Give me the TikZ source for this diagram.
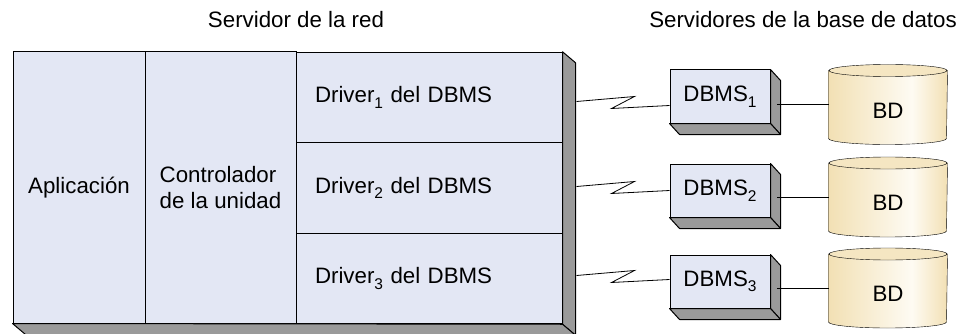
\documentclass[tikz,border=0pt]{standalone}
\usepackage{fontspec}
\setmainfont{Liberation Sans}
\usepackage{xcolor}
\usetikzlibrary{backgrounds}
\definecolor{panel}{HTML}{E3E7F4}
\definecolor{depth}{HTML}{9A9A9A}
\definecolor{cream}{HTML}{F2E0B4}
\definecolor{creamlight}{HTML}{FEFBF3}
\definecolor{capfill}{HTML}{F5E6C2}
\pgfdeclarehorizontalshading{cylfill}{100bp}{color(0bp)=(cream); color(25bp)=(cream); color(60bp)=(creamlight); color(75bp)=(cream); color(100bp)=(cream)}
\newcommand{\lowidx}[1]{\raisebox{-5.5pt}{\fontsize{15.5}{15.5}\selectfont #1}}

\begin{document}
\begin{tikzpicture}[x=1pt, y=-1pt, line width=1pt, every node/.style={font=\fontsize{22.3}{25.5}\selectfont}]
  \tikzstyle{cell}=[rectangle, draw, fill=panel, inner sep=0pt]
  \tikzstyle{side}=[draw, fill=depth, line join=round]
  \tikzstyle{wire}=[line width=0.8pt]
  \useasboundingbox (0,0) rectangle (968,334);
  \node (srvtitle) at (296,20) {Servidor de la red};
  \node (dbtitle) at (803,20) {Servidores de la base de datos};
  \node[cell, minimum width=132, minimum height=271] (app) at (79,187.5) {Aplicación};
  \node[cell, minimum width=151, minimum height=271, align=left] (ctl) at (220.5,187.5) {Controlador\\de la unidad};
  \foreach \i/\y in {1/97.5,2/188,3/278.5}{
    \node[cell, text width=228, inner xsep=19pt, minimum height=90.5, align=left] (drv\i) at (429,\y) {Driver\lowidx{\i} del DBMS};
  }
  \draw[side] (drv1.north east) -- ++(13,11) -- ([shift={(13,11)}]drv3.south east) -- (drv3.south east) -- cycle;
  \draw[side] (app.south west) -- ++(13,11) -- ([shift={(13,11)}]drv3.south east) -- (drv3.south east) -- cycle;
  \foreach \i/\y/\dy in {1/96.5/9,2/190.5/0,3/281.5/-2}{
    \node[cell, minimum width=100, minimum height=53] (dbms\i) at (720,\y) {DBMS\lowidx{\i}};
    \draw[side] (dbms\i.north east) -- ++(10,11) -- ([shift={(10,11)}]dbms\i.south east) -- (dbms\i.south east) -- cycle;
    \draw[side] (dbms\i.south west) -- ++(10,11) -- ([shift={(10,11)}]dbms\i.south east) -- (dbms\i.south east) -- cycle;
    \draw[wire] ([yshift=-\dy pt]dbms\i.west) -- ++(-58,3) -- ++(23,-12) -- ++(-58,5);
  }
  \foreach \i/\y in {1/110.5,2/203,3/294}{
    \node[minimum width=118, minimum height=67, inner sep=0pt] (bd\i) at (888,\y) {BD};
    \draw[wire] ([yshift=6pt]bd\i.west) -- ++(-52,0);
  }
  \begin{scope}[on background layer]
    \foreach \i in {1,2,3}{
      \draw[shading=cylfill] ([yshift=6pt]bd\i.north west) -- ([yshift=6pt]bd\i.south west) arc[start angle=180, end angle=360, x radius=59pt, y radius=6pt] -- ([yshift=6pt]bd\i.north east) -- cycle;
      \draw[fill=capfill] ([yshift=6pt]bd\i.north) ellipse[x radius=59pt, y radius=6pt];
    }
  \end{scope}
\end{tikzpicture}
\end{document}
